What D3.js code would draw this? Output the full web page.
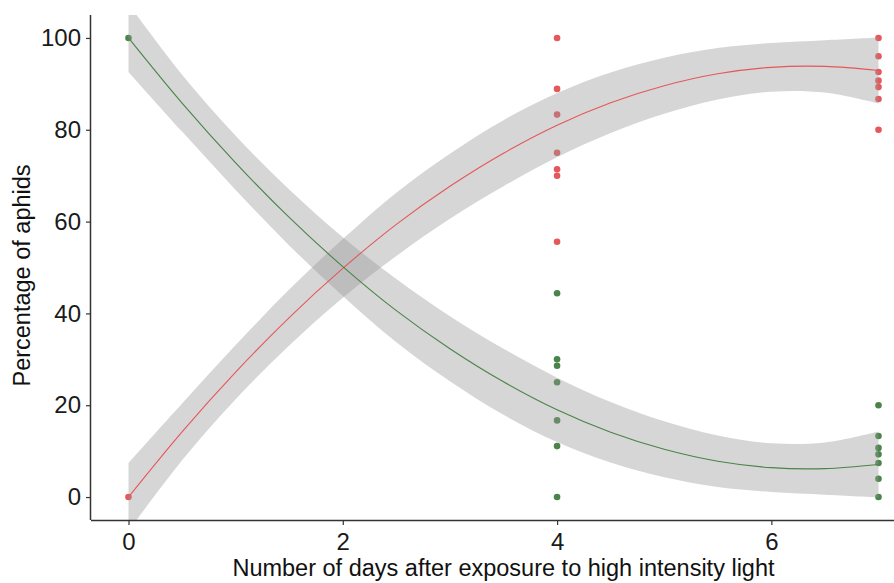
<!DOCTYPE html>
<html>
<head>
<meta charset="utf-8">
<script src="https://cdn.jsdelivr.net/npm/d3@7"></script>
<style>
  html, body { margin: 0; padding: 0; background: #fff; }
  svg text { font-family: "Liberation Sans", Arial, sans-serif; }
</style>
</head>
<body>
<svg id="chart" width="894" height="583"></svg>
<script>
/* ── Data ──────────────────────────────────────────────── */
const redX     = [0, 4, 4, 4, 4, 4, 4, 4, 7, 7, 7, 7, 7, 7, 7];
const redY     = [0, 100, 88.9, 83.3, 75, 71.4, 70, 55.6, 100, 96, 92.6, 90.7, 89.3, 86.7, 80];
const greenX   = [0, 4, 4, 4, 4, 4, 4, 4, 7, 7, 7, 7, 7, 7, 7];
const greenY   = [100, 0, 11.1, 16.7, 25, 28.6, 30, 44.4, 0, 4, 7.4, 9.3, 10.7, 13.3, 20];

// fitted smooth + confidence band, sampled every half day
const smoothX  = [0, 0.5, 1, 1.5, 2, 2.5, 3, 3.5, 4, 4.5, 5, 5.5, 6, 6.5, 7];
const redFit   = [0, 14.2, 27.2, 39.1, 49.8, 59.4, 67.7, 74.9, 81.0, 85.9, 89.6, 92.2, 93.6, 93.8, 92.9];
const greenFit = [100, 85.8, 72.8, 60.9, 50.2, 40.6, 32.3, 25.1, 19.0, 14.1, 10.4, 7.8, 6.4, 6.2, 7.1];
const bandHalf = [7.4, 6.2, 5.9, 6.1, 6.4, 6.9, 7.1, 7.2, 7.0, 6.6, 6.1, 5.6, 5.3, 5.7, 7.2];

const xTicks   = [0, 2, 4, 6];
const yTicks   = [0, 20, 40, 60, 80, 100];

const RED   = '#E5575A';
const GREEN = '#4A8449';

/* ── Layout ────────────────────────────────────────────── */
const svg = d3.select('#chart');
const panel = { left: 91, right: 916, top: 15, bottom: 520 };

const x = d3.scaleLinear().domain([-0.35, 7.35]).range([panel.left, panel.right]);
const y = d3.scaleLinear().domain([-5, 105]).range([panel.bottom, panel.top]);

svg.append('clipPath').attr('id', 'panel-clip')
  .append('rect')
  .attr('x', panel.left).attr('y', panel.top)
  .attr('width', panel.right - panel.left)
  .attr('height', panel.bottom - panel.top);

const plot = svg.append('g').attr('clip-path', 'url(#panel-clip)');

/* ── Points (drawn under the bands, like ggplot) ───────── */
plot.append('g').selectAll('circle.red')
  .data(redX.map((d, i) => [d, redY[i]]))
  .join('circle')
  .attr('cx', d => x(d[0]))
  .attr('cy', d => y(d[1]))
  .attr('r', 3.3)
  .attr('fill', RED);

plot.append('g').selectAll('circle.green')
  .data(greenX.map((d, i) => [d, greenY[i]]))
  .join('circle')
  .attr('cx', d => x(d[0]))
  .attr('cy', d => y(d[1]))
  .attr('r', 3.3)
  .attr('fill', GREEN);

/* ── Confidence bands ──────────────────────────────────── */
const band = fit => d3.area()
  .x(d => x(d))
  .y0((d, i) => y(fit[i] - bandHalf[i]))
  .y1((d, i) => y(fit[i] + bandHalf[i]))
  .curve(d3.curveCatmullRom)(smoothX);

[redFit, greenFit].forEach(fit => {
  plot.append('path')
    .attr('d', band(fit))
    .attr('fill', '#999999')
    .attr('fill-opacity', 0.4);
});

/* ── Smooth lines ──────────────────────────────────────── */
const line = fit => d3.line()
  .x(d => x(d))
  .y((d, i) => y(fit[i]))
  .curve(d3.curveCatmullRom)(smoothX);

plot.append('path').attr('d', line(redFit))
  .attr('fill', 'none').attr('stroke', RED).attr('stroke-width', 1.1);
plot.append('path').attr('d', line(greenFit))
  .attr('fill', 'none').attr('stroke', GREEN).attr('stroke-width', 1.1);

/* ── Axes ──────────────────────────────────────────────── */
const xAxis = svg.append('g')
  .attr('transform', `translate(0,${panel.bottom})`)
  .call(d3.axisBottom(x).tickValues(xTicks).tickSize(5).tickPadding(8).tickFormat(d3.format('d')));
xAxis.select('.domain').attr('d', `M${panel.left},0.5H${panel.right}`);

const yAxis = svg.append('g')
  .attr('transform', `translate(${panel.left},0)`)
  .call(d3.axisLeft(y).tickValues(yTicks).tickSize(5).tickPadding(5).tickFormat(d3.format('d')));
yAxis.select('.domain').attr('d', `M-0.5,${panel.top}V${panel.bottom}`);

[xAxis, yAxis].forEach(g => {
  g.select('.domain').attr('stroke', '#333').attr('stroke-width', 1.5);
  g.selectAll('.tick line').attr('stroke', '#333').attr('stroke-width', 1.2);
  g.selectAll('.tick text')
    .attr('fill', '#1a1a1a')
    .attr('font-size', 24)
    .attr('font-family', '"Liberation Sans", Arial, sans-serif');
});

/* ── Axis titles ───────────────────────────────────────── */
svg.append('text')
  .attr('x', (panel.left + panel.right) / 2)
  .attr('y', 576)
  .attr('text-anchor', 'middle')
  .attr('font-size', 23.5)
  .attr('fill', '#111')
  .text('Number of days after exposure to high intensity light');

svg.append('text')
  .attr('transform', `translate(30,${(panel.top + panel.bottom) / 2 + 8}) rotate(-90)`)
  .attr('text-anchor', 'middle')
  .attr('font-size', 23.5)
  .attr('fill', '#111')
  .text('Percentage of aphids');
</script>
</body>
</html>
